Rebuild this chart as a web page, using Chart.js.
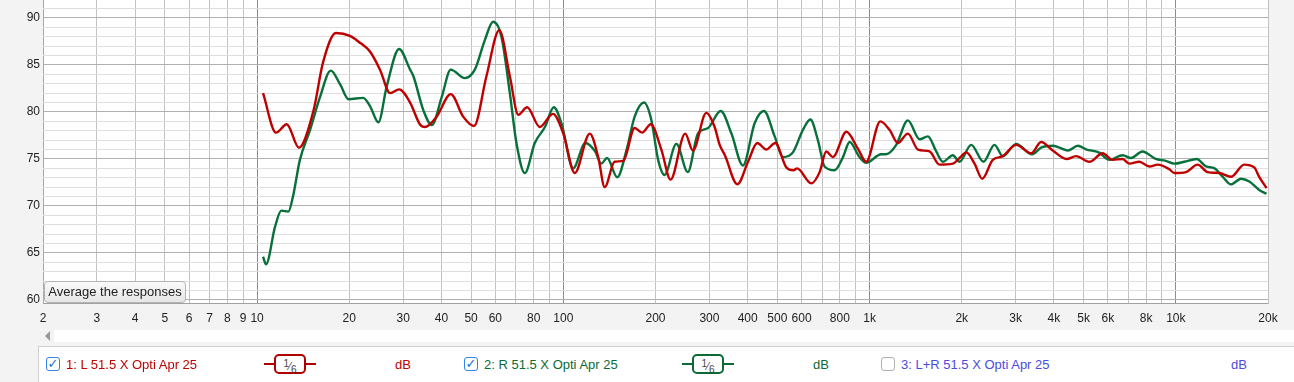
<!DOCTYPE html>
<html><head><meta charset="utf-8">
<script src="https://cdn.jsdelivr.net/npm/chart.js@4.4.1/dist/chart.umd.min.js"></script>
<style>
html,body{margin:0;padding:0;width:1294px;height:382px;overflow:hidden;background:#f3f3f3;font-family:"Liberation Sans",Arial,sans-serif;}
#wrap{position:absolute;left:0;top:0;width:1294px;height:330px;}
#btn{position:absolute;left:44px;top:281px;width:140px;height:20px;border:1px solid #b4b4b4;border-radius:4px;background:linear-gradient(#fafafa,#e6e6e6);font-size:13px;color:#222;line-height:20px;text-align:center;box-sizing:content-box;}
#scroll{position:absolute;left:54px;top:330px;width:1240px;height:12px;background:#fff;}
#tri{position:absolute;left:45px;top:331px;width:0;height:0;border-top:5px solid transparent;border-bottom:5px solid transparent;border-right:5px solid #999;}
#panel{position:absolute;left:38px;top:346px;width:1260px;height:40px;background:#fff;border-top:1px solid #cfcfcf;border-left:1px solid #cfcfcf;}
.it{position:absolute;top:364px;transform:translateY(-50%);font-size:13px;white-space:nowrap;}
.cb{position:absolute;top:357px;width:12px;height:12px;border:1px solid #2f86e8;border-radius:3px;background:#fff;font-size:13px;line-height:12px;text-align:center;color:#1c6fd6;font-family:"DejaVu Sans",sans-serif;font-weight:bold;}
.cb.off{border-color:#b0b0b0;}
.bad{position:absolute;top:354px;height:20px;}
.bad .ln{position:absolute;top:9px;height:2px;width:52px;left:0;}
.bad .bx{position:absolute;left:10px;top:0;width:28px;height:16px;border:2px solid;border-radius:5px;background:#fff;font-size:11px;color:#444;text-align:center;line-height:16px;}
.bad .bx sup{font-size:10px;vertical-align:3px;}
.bad .bx sub{font-size:10px;vertical-align:-3px;}
</style></head><body>
<div id="wrap"><canvas id="c" width="1294" height="330"></canvas></div>
<div id="btn">Average the responses</div>
<div id="tri"></div><div id="scroll"></div>
<div id="panel"></div>
<div class="cb" style="left:46px">✓</div>
<div class="it" style="left:66px;color:#c00000">1: L 51.5 X Opti Apr 25</div>
<div class="bad" style="left:264px;width:52px"><div class="ln" style="background:#b00000"></div><div class="bx" style="border-color:#b00000"><sup>1</sup>⁄<sub>6</sub></div></div>
<div class="it" style="left:395px;color:#c00000">dB</div>
<div class="cb" style="left:464px">✓</div>
<div class="it" style="left:484px;color:#0b6b35">2: R 51.5 X Opti Apr 25</div>
<div class="bad" style="left:682px;width:52px"><div class="ln" style="background:#0b6b35"></div><div class="bx" style="border-color:#0b6b35"><sup>1</sup>⁄<sub>6</sub></div></div>
<div class="it" style="left:813px;color:#0b6b35">dB</div>
<div class="cb off" style="left:881px"></div>
<div class="it" style="left:901px;color:#4b4be0">3: L+R 51.5 X Opti Apr 25</div>
<div class="it" style="left:1231px;color:#4b4be0">dB</div>
<script>
// ---- data ----
const freqL = [10.46,11.53,12.5,13.7,15.3,16.4,18.1,20.1,21.4,23.4,25.2,27.2,29.1,31.6,34.0,35.3,38.6,42.9,47.1,51.1,56.1,61.8,66.9,71.3,76.2,83.8,92.5,100,109,122,130,136.5,147,157,171,181,193,209,224,250,265,293,312,324,337,370,401,430,460,492,535,565,580,645,687,722,759,840,916,975,1084,1162,1237,1334,1439,1570,1691,1871,1967,2070,2202,2333,2525,2724,3011,3373,3632,3963,4400,4723,5223,5769,6223,6704,7050,7600,8200,8730,9530,9890,10800,11780,12700,13870,15140,16720,18030,18720,19780];
const dbL   = [82.0,77.8,78.7,76.2,80.2,85.2,88.4,88.1,87.5,86.4,84.5,82.0,82.4,81.0,78.7,78.4,79.5,81.9,79.5,78.5,83.8,88.7,83.8,79.7,80.5,78.4,79.8,77.7,73.5,77.7,75.2,72.0,74.7,74.8,78.3,77.8,78.7,76.0,72.8,77.7,75.9,79.9,78.4,76.5,75.4,72.3,74.7,76.7,76.0,76.7,74.1,73.8,74.0,72.4,73.6,75.8,75.2,77.9,76.1,74.7,79.0,78.1,76.7,77.7,76.0,75.8,74.4,74.5,75.1,75.7,74.5,72.9,74.9,75.3,76.5,75.6,76.8,75.9,75.0,75.3,74.7,75.6,74.9,75.0,74.5,74.7,74.2,74.4,73.9,73.5,73.6,74.4,73.6,73.5,73.1,74.4,74.1,73.1,71.9];
const freqR = [10.46,10.7,11.45,12.0,12.65,13.1,13.8,14.9,16.06,17.4,18.7,19.9,22.2,23.4,24.9,26.5,29.1,31.6,32.4,34.9,37.2,40.1,42.9,47.7,51.4,55.5,59.0,62.8,66.9,70.3,74.9,80.7,87.1,93.1,98.6,107.7,118,127,133,139,150,161,171,183.5,194,204,214,234,255,275,297,326.5,354,386,421.5,452,490,521,562,606,641,678,713,769,819,861,927,975,1092,1132,1222,1334,1456,1550,1651,1735,1871,1967,2147,2355,2558,2724,3011,3396,3632,3963,4169,4437,4786,5110,5600,6070,6704,7140,7780,8600,9270,9890,10660,11700,12550,13380,14230,15140,16330,17380,18720,19780];
const dbR   = [64.6,63.8,67.8,69.5,69.4,71.0,74.9,78.1,81.6,84.4,82.9,81.35,81.5,80.6,78.9,82.7,86.7,84.5,83.8,80.2,78.6,81.6,84.5,83.6,84.5,87.7,89.6,88.0,82.0,76.7,73.5,76.7,78.4,80.5,78.8,74.0,76.7,75.8,74.5,75.1,73.05,76.0,79.5,81.0,79.1,74.9,73.3,76.6,73.6,77.7,78.3,80.1,77.7,74.3,78.8,80.1,77.4,75.2,75.7,78.1,79.2,77.0,74.2,73.8,75.2,76.8,75.2,74.6,75.5,75.5,76.5,79.1,77.1,77.4,75.8,74.7,75.4,74.7,76.5,74.7,76.5,75.3,76.6,75.5,76.2,76.4,76.2,75.9,76.4,76.0,75.7,74.9,75.4,75.1,75.8,75.0,74.8,74.5,74.7,75.0,74.2,74.0,73.1,72.3,72.9,72.6,71.7,71.3];
const xTickValues = [2,3,4,5,6,7,8,9,10,20,30,40,50,60,70,80,90,100,200,300,400,500,600,700,800,900,1000,2000,3000,4000,5000,6000,7000,8000,9000,10000,20000];
const xTickLabels = ['2','3','4','5','6','7','8','9','10','20','30','40','50','60','','80','','100','200','300','400','500','600','','800','','1k','2k','3k','4k','5k','6k','','8k','','10k','20k'];
const yTickValues = [60,61,62,63,64,65,66,67,68,69,70,71,72,73,74,75,76,77,78,79,80,81,82,83,84,85,86,87,88,89,90,91];
const yTickLabels = ['60','','','','','65','','','','','70','','','','','75','','','','','80','','','','','85','','','','','90',''];

const FONT = {family:'"Liberation Sans", Arial, sans-serif', size:12};
const decades = [10,100,1000,10000];
new Chart(document.getElementById('c'), {
  type:'line',
  data:{datasets:[
    {label:'L', data:freqL.map((f,i)=>({x:f,y:dbL[i]})), borderColor:'#bf0000', borderWidth:2.4, pointRadius:0, cubicInterpolationMode:'monotone', fill:false},
    {label:'R', data:freqR.map((f,i)=>({x:f,y:dbR[i]})), borderColor:'#08703a', borderWidth:2.4, pointRadius:0, cubicInterpolationMode:'monotone', fill:false}
  ]},
  options:{
    responsive:false, animation:false, maintainAspectRatio:false,
    layout:{padding:{left:0,right:26,top:0,bottom:0}, autoPadding:false},
    plugins:{legend:{display:false}, tooltip:{enabled:false}},
    scales:{
      x:{type:'logarithmic', min:2, max:20000,
        afterBuildTicks:s=>{s.ticks=xTickValues.map(v=>({value:v}));},
        afterFit:s=>{s.height=26;s.paddingLeft=0;s.paddingRight=0;},
        ticks:{autoSkip:false, maxRotation:0, minRotation:0, padding:7, font:FONT, color:'#222',
          callback:(v)=>{const i=xTickValues.indexOf(v);return i>=0?xTickLabels[i]:'';}},
        grid:{drawTicks:false, lineWidth:1, color:c=>{const v=c.tick&&c.tick.value;return decades.includes(v)?'#8c8c8c':(v===2?'#a8a8a8':'#c2c2c2');}},
        border:{display:false}
      },
      y:{min:59.57, max:91.91,
        afterBuildTicks:s=>{s.ticks=yTickValues.map(v=>({value:v}));},
        afterFit:s=>{s.width=43;s.paddingTop=0;s.paddingBottom=0;},
        ticks:{autoSkip:false, padding:3, font:FONT, color:'#222',
          callback:(v)=>{const i=yTickValues.indexOf(v);return i>=0?yTickLabels[i]:'';}},
        grid:{drawTicks:false, lineWidth:1, color:c=>{const v=c.tick&&c.tick.value;return (v%5===0)?'#b0b0b0':'#dedede';}},
        border:{display:false}
      }
    }
  },
  plugins:[{id:'bg',beforeDraw(ch){const a=ch.chartArea,x=ch.ctx;x.save();x.fillStyle='#fff';x.fillRect(a.left,a.top,a.right-a.left,a.bottom-a.top);x.restore();}},
   {id:'frame',beforeDatasetsDraw(ch){const a=ch.chartArea,x=ch.ctx;x.save();x.strokeStyle='#a0a0a0';x.lineWidth=1;x.beginPath();x.moveTo(a.left,Math.round(a.bottom)-0.5);x.lineTo(a.right,Math.round(a.bottom)-0.5);x.stroke();x.restore();}}]
});
</script>
</body></html>
